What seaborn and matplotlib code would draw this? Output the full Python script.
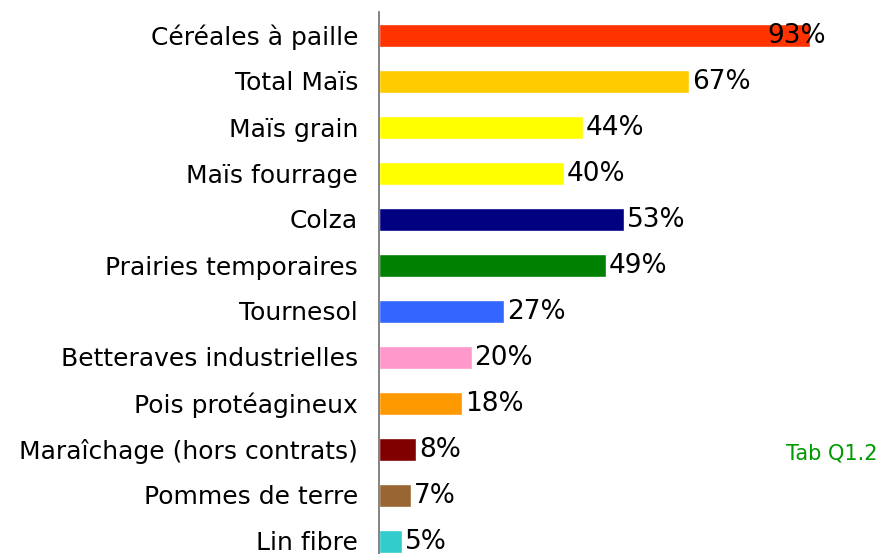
import matplotlib
matplotlib.use("Agg")
import matplotlib.pyplot as plt
import seaborn as sns
import pandas as pd
from matplotlib.ticker import FixedLocator

categories = ["Céréales à paille", "Total Maïs", "Maïs grain", "Maïs fourrage", "Colza",
              "Prairies temporaires", "Tournesol", "Betteraves industrielles",
              "Pois protéagineux", "Maraîchage (hors contrats)", "Pommes de terre", "Lin fibre"]
values = [93, 67, 44, 40, 53, 49, 27, 20, 18, 8, 7, 5]
colors = ["#FF3300", "#FFCC00", "#FFFF00", "#FFFF00", "#000080", "#008000",
          "#3366FF", "#FF99CC", "#FF9900", "#800000", "#996633", "#33CCCC"]
note = "Tab Q1.2"

df = pd.DataFrame({"cat": categories, "val": values})

sns.set_style("white")
plt.rcParams["font.family"] = ["DejaVu Sans"]

W, H = 881, 554
fig = plt.figure(figsize=(W / 100, H / 100), dpi=100)
left_px, top_px, cat_px = 379, 12, 46
n = len(categories)
ax = fig.add_axes([left_px / W, 1 - (top_px + n * cat_px) / H,
                   (W - left_px) / W, n * cat_px / H])

sns.barplot(data=df, x="val", y="cat", hue="cat", palette=dict(zip(categories, colors)),
            legend=False, width=0.5, ax=ax, saturation=1)

ax.set_xlim(0, (W - left_px) / 4.63)
ax.set_ylim(n - 0.5, -0.5)
ax.set_xlabel("")
ax.set_ylabel("")
ax.set_xticks([])
for s in ["top", "right", "bottom"]:
    ax.spines[s].set_visible(False)
ax.spines["left"].set_color("#6E6E6E")
ax.spines["left"].set_linewidth(1.2)

ax.tick_params(axis="y", which="major", length=0, labelsize=18, pad=15, labelcolor="black")
ax.yaxis.set_minor_locator(FixedLocator([i - 0.5 for i in range(n + 1)]))
ax.tick_params(axis="y", which="minor", length=5, width=1.2, color="#6E6E6E", direction="out")

for i, v in enumerate(values):
    if i == 0:
        ax.annotate(f"{v}%", (v, i), xytext=(12, -1), textcoords="offset points",
                    ha="right", va="center", fontsize=19, color="black")
    else:
        ax.annotate(f"{v}%", (v, i), xytext=(2, -1), textcoords="offset points",
                    ha="left", va="center", fontsize=19, color="black")

fig.text(878 / W, 1 - 453 / H, note, ha="right", va="center", fontsize=15, color="#009900")

fig.savefig("out.png", dpi=100)
